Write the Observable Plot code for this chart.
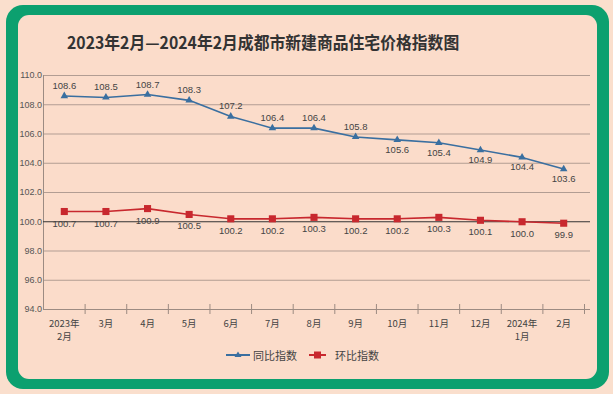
<!DOCTYPE html>
<html><head><meta charset="utf-8">
<script src="https://cdn.jsdelivr.net/npm/d3@7"></script>
<script src="https://cdn.jsdelivr.net/npm/@observablehq/plot@0.6"></script>
<style>
html,body{margin:0;padding:0;background:#fadfcd;}
#wrap{position:relative;width:613px;height:394px;overflow:hidden;background:#fadfcd;}
#frame{position:absolute;left:6px;top:5px;width:603px;height:384px;background:#0ca06f;border-radius:17px;}
#panel{position:absolute;left:18px;top:15px;width:579px;height:364px;background:#fbdcca;border-radius:11px;}
#title{position:absolute;left:67px;top:31px;line-height:22px;white-space:nowrap;font-weight:bold;font-size:17px;font-family:"Noto Sans CJK SC",sans-serif;color:#333;transform:scaleX(0.93);transform-origin:0 50%;}
#chart{position:absolute;left:0;top:0;}
.lg{position:absolute;top:347px;height:16px;line-height:16px;font-size:11px;font-family:"Noto Sans CJK SC",sans-serif;color:#444;white-space:nowrap;}
.lg svg{position:absolute;top:0;}
</style></head>
<body>
<div id="wrap">
  <div id="frame"></div>
  <div id="panel"></div>
  <div id="title">2023年2月—2024年2月成都市新建商品住宅价格指数图</div>
  <div id="chart"></div>
  <div class="lg" style="left:226px;"><svg width="24" height="16"><line x1="0" y1="8" x2="24" y2="8" stroke="#3a6fa0" stroke-width="2"/><path d="M12,4.5L15.5,10H8.5Z" fill="#3a6fa0"/></svg></div>
  <div class="lg" id="lg1" style="left:253px;"></div>
  <div class="lg" style="left:309px;"><svg width="17" height="16"><line x1="0" y1="8" x2="17" y2="8" stroke="#c8282e" stroke-width="2"/><rect x="5" y="4.5" width="7" height="7" fill="#c8282e"/></svg></div>
  <div class="lg" id="lg2" style="left:335px;"></div>
</div>
<script>
const months = ["2023年\n2月","3月","4月","5月","6月","7月","8月","9月","10月","11月","12月","2024年\n1月","2月"];
const seriesNames = ["同比指数","环比指数"];
const yoy = [108.6,108.5,108.7,108.3,107.2,106.4,106.4,105.8,105.6,105.4,104.9,104.4,103.6];
const mom = [100.7,100.7,100.9,100.5,100.2,100.2,100.3,100.2,100.2,100.3,100.1,100.0,99.9];
const yTicks = [94,96,98,100,102,104,106,108,110];
// label side for the year-on-year series
const yoyLabelSide = ["above","above","above","above","above","above","above","above","below","below","below","below","below"];

document.getElementById("lg1").textContent = seriesNames[0];
document.getElementById("lg2").textContent = seriesNames[1];

const rows = months.map((m, i) => ({i, m, yoy: yoy[i], mom: mom[i], side: yoyLabelSide[i]}));
const xDomain = [-0.5, months.length - 0.5];
const bounds = d3.range(1, months.length + 1).map(k => k - 0.5);
const yMin = d3.min(yTicks), yMax = d3.max(yTicks);
const blue = "#3a6fa0", red = "#c8282e";
const gridC = "#b29d93", axisC = "#9c8b82";
const numFont = "Liberation Sans, Arial, sans-serif";

const chart = Plot.plot({
  width: 613, height: 394,
  marginLeft: 43, marginRight: 23, marginTop: 75, marginBottom: 85,
  style: {background: "transparent", fontFamily: numFont},
  x: {domain: xDomain, range: [43, 584], axis: null},
  y: {domain: [yMin, yMax], axis: null},
  marks: [
    Plot.ruleY(yTicks.filter(d => d !== yMin && d !== 100), {stroke: gridC, strokeWidth: 1}),
    Plot.ruleY([yMin], {stroke: axisC, strokeWidth: 1}),
    Plot.ruleX([xDomain[0]], {stroke: axisC, strokeWidth: 1}),
    Plot.ruleX(bounds, {y1: yMin, y2: yMin, insetTop: -5, insetBottom: -5, stroke: axisC, strokeWidth: 1}),
    Plot.ruleY([100], {stroke: "#333", strokeWidth: 1.1}),
    Plot.text(yTicks, {x: xDomain[0], y: d => d, text: d => d.toFixed(1), textAnchor: "end", dx: -1.5, fontSize: 9, fill: "#555"}),
    Plot.text(rows, {x: "i", y: yMin, text: "m", dy: 9, lineAnchor: "top", lineHeight: 1.32, fontSize: 9.5, fill: "#444", fontFamily: "Noto Sans CJK SC, sans-serif"}),
    Plot.line(rows, {x: "i", y: "yoy", stroke: blue, strokeWidth: 1.6}),
    Plot.dot(rows, {x: "i", y: "yoy", symbol: "triangle", r: 2.8, fill: blue, stroke: "none"}),
    Plot.line(rows, {x: "i", y: "mom", stroke: red, strokeWidth: 1.6}),
    Plot.dot(rows, {x: "i", y: "mom", symbol: "square", r: 4, fill: red, stroke: "none"}),
    Plot.text(rows.filter(d => d.side === "above"), {x: "i", y: "yoy", text: d => d.yoy.toFixed(1), dy: -10, fontSize: 9.5, fill: "#444"}),
    Plot.text(rows.filter(d => d.side === "below"), {x: "i", y: "yoy", text: d => d.yoy.toFixed(1), dy: 10, fontSize: 9.5, fill: "#444"}),
    Plot.text(rows, {x: "i", y: "mom", text: d => d.mom.toFixed(1), dy: 12, fontSize: 9.5, fill: "#444"})
  ]
});
document.getElementById("chart").appendChild(chart);
</script>
</body></html>
